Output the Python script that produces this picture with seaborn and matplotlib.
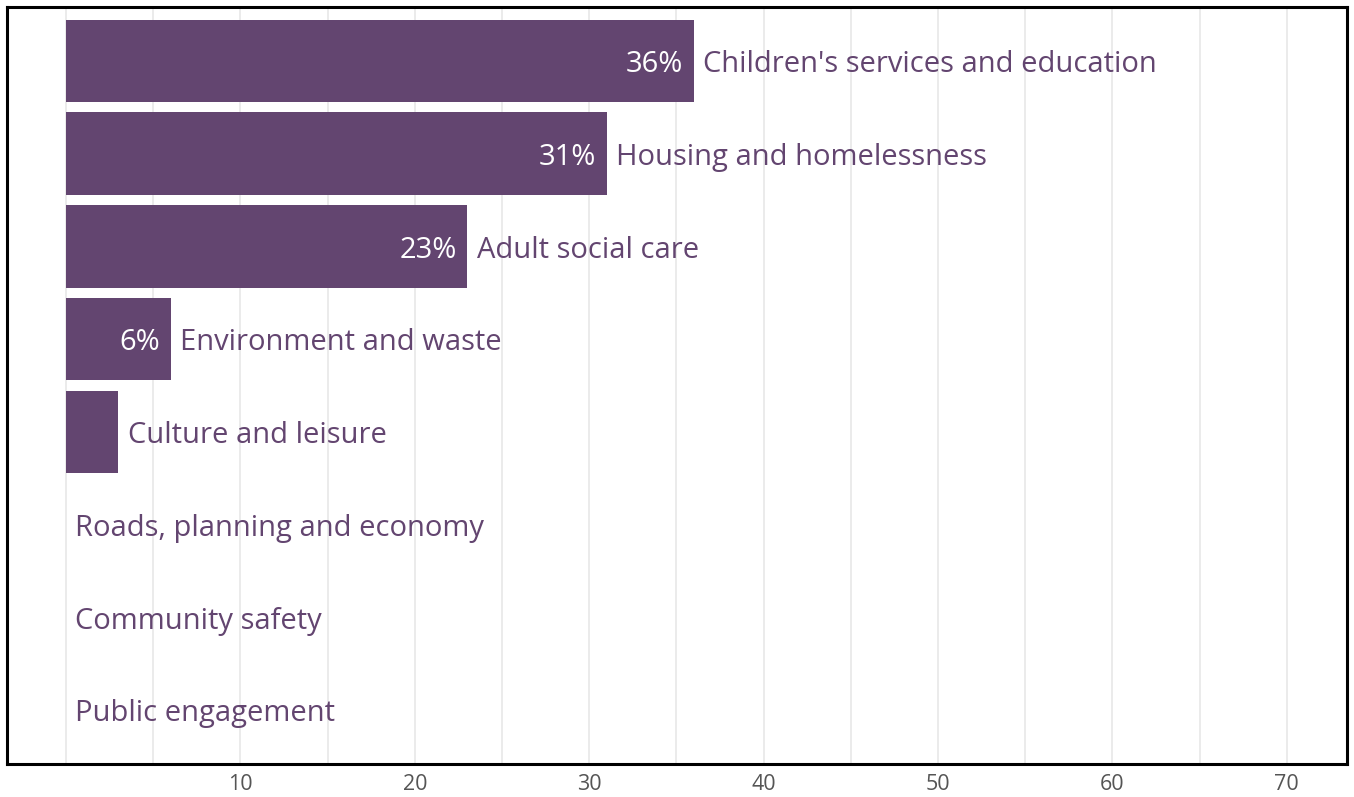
import matplotlib
matplotlib.use("Agg")
import matplotlib.pyplot as plt
import seaborn as sns
import pandas as pd

# Share of respondents by service area (percent)
categories = [
    "Children's services and education",
    "Housing and homelessness",
    "Adult social care",
    "Environment and waste",
    "Culture and leisure",
    "Roads, planning and economy",
    "Community safety",
    "Public engagement",
]
values = [36, 31, 23, 6, 3, 0, 0, 0]
value_labels = ["36%", "31%", "23%", "6%", "", "", "", ""]
x_ticks = [10, 20, 30, 40, 50, 60, 70]

bar_color = "#634570"

sns.set_theme(style="white")
plt.rcParams["font.family"] = ["Open Sans", "DejaVu Sans"]

df = pd.DataFrame({"category": categories, "value": values})

fig = plt.figure(figsize=(13.54, 7.97), dpi=100)
ax = fig.add_axes([7 / 1354, 33 / 797, 1340 / 1354, 757 / 797])

sns.barplot(data=df, y="category", x="value", orient="h", color=bar_color,
            saturation=1, width=0.89, linewidth=0, ax=ax, zorder=2)

ax.set_xlim(-3.38, 73.45)
ax.set_ylim(7.58, -0.58)

# light vertical gridlines every 5 units
for g in range(0, 75, 5):
    ax.axvline(g, color="#e8e8e8", lw=1.2, zorder=0)

for i, (v, vl, cat) in enumerate(zip(values, value_labels, categories)):
    if vl:
        ax.text(v - 0.6, i + 0.04, vl, ha="right", va="center", color="white",
                fontsize=21, zorder=3)
    x = v + 0.55 if v > 0 else 0.52
    ax.text(x, i + 0.04, cat, ha="left", va="center", color=bar_color,
            fontsize=21, zorder=3)

ax.set_xticks(x_ticks)
ax.set_xticklabels([str(t) for t in x_ticks])
ax.tick_params(axis="x", length=0, pad=7, labelsize=15.5, labelcolor="#555555")
ax.set_yticks([])
ax.set_xlabel("")
ax.set_ylabel("")

for s in ax.spines.values():
    s.set_visible(True)
    s.set_color("black")
    s.set_linewidth(2.2)

fig.savefig("out.png", dpi=100)
